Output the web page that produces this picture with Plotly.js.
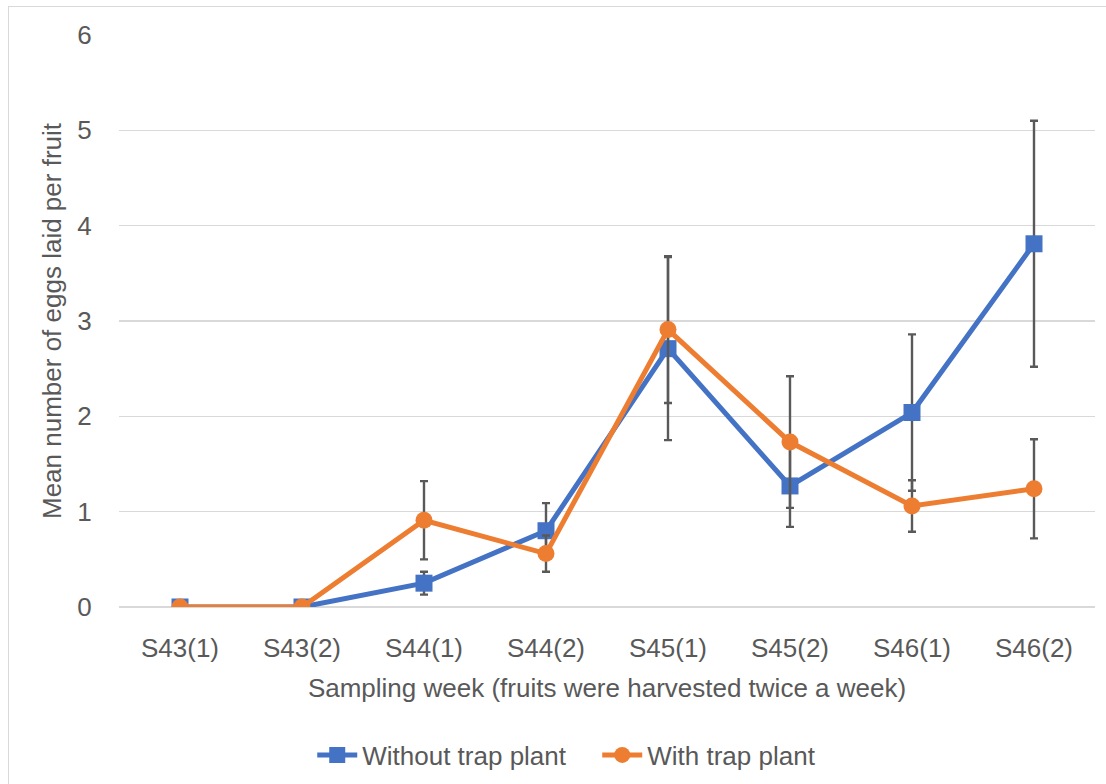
<!DOCTYPE html>
<html>
<head>
<meta charset="utf-8">
<script src="https://cdn.plot.ly/plotly-3.0.1.min.js"></script>
<style>
  html, body { margin: 0; padding: 0; background: #ffffff; }
  #wrap { position: relative; width: 1106px; height: 784px; overflow: hidden; }
  #chart { width: 1106px; height: 784px; }
  #frame { position: absolute; left: 8px; top: 6px; width: 1120px; height: 800px;
           border: 1.5px solid #d9d9d9; pointer-events: none; box-sizing: border-box; }
</style>
</head>
<body>
<div id="wrap">
  <div id="chart"></div>
  <div id="frame"></div>
</div>
<script>
const categories = ['S43(1)', 'S43(2)', 'S44(1)', 'S44(2)', 'S45(1)', 'S45(2)', 'S46(1)', 'S46(2)'];
const withoutTrap = [0, 0, 0.25, 0.80, 2.71, 1.27, 2.04, 3.81];
const withoutTrapErr = [0, 0, 0.12, 0.29, 0.96, 0.43, 0.82, 1.29];
const withTrap = [0, 0, 0.91, 0.56, 2.91, 1.73, 1.06, 1.24];
const withTrapErr = [0, 0, 0.41, 0.19, 0.77, 0.69, 0.27, 0.52];
const seriesNames = ['Without trap plant', 'With trap plant'];
const xTitle = 'Sampling week (fruits were harvested twice a week)';
const yTitle = 'Mean number of eggs laid per fruit';

const FONT = 'Liberation Sans, Arial, sans-serif';
const TXT = '#595959';

const traces = [
  {
    x: categories, y: withoutTrap, name: seriesNames[0], type: 'scatter', mode: 'lines+markers',
    line: { color: '#4472C4', width: 5 },
    marker: { symbol: 'square', size: 17, color: '#4472C4' },
    error_y: { type: 'data', array: withoutTrapErr, visible: true, color: '#595959', thickness: 2.4, width: 4 }
  },
  {
    x: categories, y: withTrap, name: seriesNames[1], type: 'scatter', mode: 'lines+markers',
    line: { color: '#ED7D31', width: 5 },
    marker: { symbol: 'circle', size: 17, color: '#ED7D31' },
    error_y: { type: 'data', array: withTrapErr, visible: true, color: '#595959', thickness: 2.4, width: 4 }
  }
];

const layout = {
  width: 1106, height: 784,
  margin: { l: 119, r: 11, t: 34.5, b: 176.5 },
  paper_bgcolor: '#ffffff', plot_bgcolor: '#ffffff',
  font: { family: FONT, color: TXT, size: 26 },
  showlegend: true,
  legend: {
    orientation: 'h', xref: 'paper', x: 0.49, xanchor: 'center',
    yref: 'container', y: 0.037, yanchor: 'middle',
    font: { family: FONT, color: TXT, size: 26 },
    entrywidth: 230, entrywidthmode: 'pixels',
    itemwidth: 40, traceorder: 'normal'
  },
  xaxis: {
    type: 'category', range: [-0.5, 7.5], showgrid: false, zeroline: false, showline: false,
    ticks: 'outside', ticklen: 17.5, tickcolor: 'rgba(0,0,0,0)',
    tickfont: { family: FONT, color: TXT, size: 26 },
    title: { text: xTitle, font: { family: FONT, color: TXT, size: 26 }, standoff: 17 },
    fixedrange: true
  },
  yaxis: {
    range: [0, 6], dtick: 1, tick0: 0, showgrid: true, gridcolor: '#d9d9d9', gridwidth: 1.5,
    zeroline: true, zerolinecolor: '#d9d9d9', zerolinewidth: 1.5, showline: false,
    ticks: 'outside', ticklen: 21, tickcolor: 'rgba(0,0,0,0)',
    tickfont: { family: FONT, color: TXT, size: 26 },
    title: { text: yTitle, font: { family: FONT, color: TXT, size: 26 }, standoff: 8 },
    fixedrange: true
  }
};

Plotly.newPlot('chart', traces, layout, { displayModeBar: false, staticPlot: true });
</script>
</body>
</html>
